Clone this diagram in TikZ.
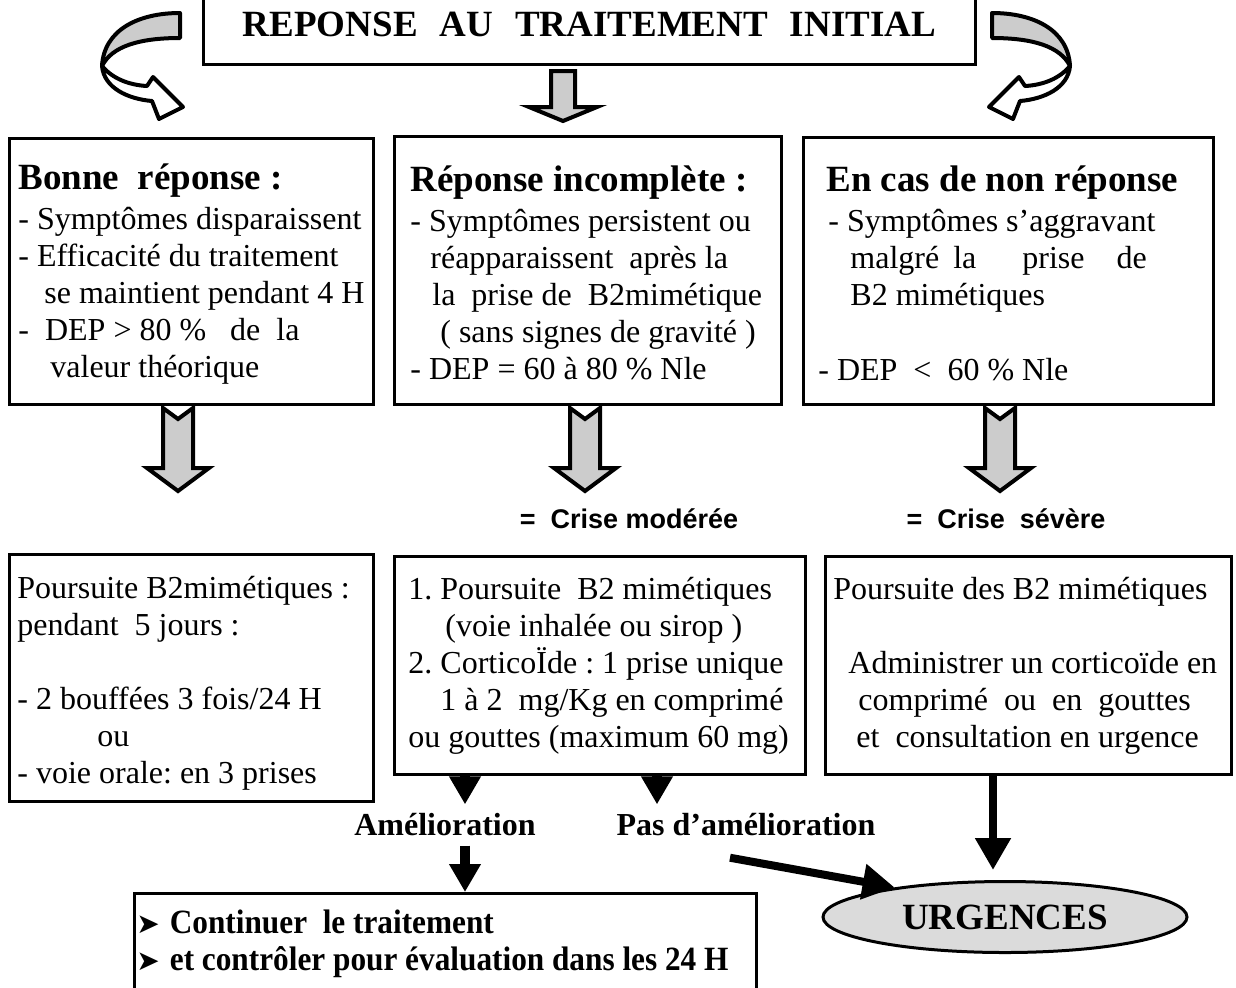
\documentclass[tikz,border=0pt]{standalone}
\usepackage{fontspec}
\usepackage{graphicx}
\setmainfont{Liberation Serif}
\setsansfont{Liberation Sans}
\newfontfamily\symfont{DejaVu Sans}
\usetikzlibrary{arrows.meta,shapes.geometric}
\definecolor{ArrowGray}{gray}{0.80}
\definecolor{OvalGray}{gray}{0.86}
\newcommand{\headline}[1]{{\fontsize{18.5}{18.5}\selectfont\bfseries #1}}
\newcommand{\pointer}{{\symfont\fontsize{14}{14}\selectfont ➤}}
\frenchspacing

\begin{document}
\begin{tikzpicture}[x=0.5pt, y=-0.5pt, every node/.style={inner sep=0pt},
  box/.style={draw, line width=1.5pt, anchor=north west},
  boxtext/.style={anchor=base west, align=left, font=\fontsize{16}{18.5}\selectfont},
  crise/.style={anchor=base, font=\sffamily\bfseries\fontsize{13.5}{13.5}\selectfont},
  outcome/.style={anchor=base, font=\bfseries\fontsize{16}{16}\selectfont},
  blockarrow/.style={draw, line width=2pt, fill=ArrowGray, line join=miter},
  curlgray/.style={draw, line width=2pt, fill=ArrowGray, line join=round},
  curlwhite/.style={draw, line width=2pt, fill=white, line join=round},
  fatarrow/.style={line width=5pt, -{Triangle[width=15pt,length=14pt]}},
  slimarrow/.style={line width=4pt, -{Triangle[width=17pt,length=16pt]}}]
  \useasboundingbox (0,0) rectangle (1236,987);
  \clip (0,0) rectangle (1236,987);

  % title box
  \node[box, anchor=south west, minimum width=386pt, minimum height=40.5pt] (top) at (202,66)
    {\fontsize{18.5}{18.5}\selectfont\bfseries REPONSE\hspace{11pt}AU\hspace{11pt}TRAITEMENT\hspace{11pt}INITIAL};

  % curled arrows on both sides
  \draw[curlgray] (180,13) .. controls (138,13) and (104,30) .. (102,66)
    .. controls (112,46) and (140,38) .. (180,38) -- cycle;
  \draw[curlwhite] (102,66) .. controls (104,88) and (128,99) .. (152,101) -- (159,119)
    -- (183,107) -- (153,77) -- (147,86) .. controls (128,85) and (112,78) .. (102,66) -- cycle;
  \begin{scope}[shift={(1172,0)}, xscale=-1]
    \draw[curlgray] (180,13) .. controls (138,13) and (104,30) .. (102,66)
      .. controls (112,46) and (140,38) .. (180,38) -- cycle;
    \draw[curlwhite] (102,66) .. controls (104,88) and (128,99) .. (152,101) -- (159,119)
      -- (183,107) -- (153,77) -- (147,86) .. controls (128,85) and (112,78) .. (102,66) -- cycle;
  \end{scope}
  \draw[blockarrow] (551,71) -- (575,71) -- (575,107) -- (597,107) -- (563,121)
    -- (529,107) -- (551,107) -- cycle;

  % first row (text nodes placed by their last baseline)
  \node[box, minimum width=182pt, minimum height=133pt] (b1) at (8,137) {};
  \node[box, minimum width=193.5pt, minimum height=134pt] (b2) at (393,135) {};
  \node[box, minimum width=205pt, minimum height=133.5pt] (b3) at (802,136) {};
  \node[boxtext] (t1) at (18,377) {\headline{Bonne\ \ réponse :}\\[1.5pt]
    - Symptômes disparaissent\\
    - Efficacité du traitement\\
    \hspace*{13pt}se maintient pendant 4 H\\
    -\ \ DEP > 80 \%\ \ \ de\ \ la\\
    \hspace*{16pt}valeur théorique};
  \node[boxtext] (t2) at (410,379) {\headline{Réponse incomplète :}\\[1.5pt]
    - Symptômes persistent ou\\
    \hspace*{10pt}réapparaissent\ \ après la\\
    \hspace*{11pt}la\ \ prise de\ \ B2mimétique\\
    \hspace*{15pt}( sans signes de gravité )\\
    - DEP = 60 à 80 \% Nle};
  \node[boxtext] (t3) at (818,380) {\hspace*{4pt}\headline{En cas de non réponse}\\[1.5pt]
    \hspace*{5pt}- Symptômes s’aggravant\\
    \hspace*{16pt}malgré\hspace{7pt}la\hspace{23pt}prise\hspace{16pt}de\\
    \hspace*{16pt}B2 mimétiques\\[19pt]
    - DEP\ \ <\ \ 60 \% Nle};

  % notched block arrows
  \foreach \cx in {178,585,1000} {
    \draw[blockarrow] (\cx-15,408) -- (\cx,419) -- (\cx+15,408) -- (\cx+15,468)
      -- (\cx+31,468) -- (\cx,491) -- (\cx-31,468) -- (\cx-15,468) -- cycle;
  }
  \node[crise] (mod) at (629,528) {=\ \ Crise modérée};
  \node[crise] (sev) at (1006,528) {=\ \ Crise\ \ sévère};

  % second row
  \node[box, minimum width=182pt, minimum height=123.5pt] (b4) at (8,553) {};
  \node[box, minimum width=205.5pt, minimum height=109pt] (b5) at (393,555) {};
  \node[box, minimum width=203pt, minimum height=109pt] (b6) at (824,555) {};
  \node[boxtext] (t4) at (17,783) {Poursuite B2mimétiques :\\
    pendant\ \ 5 jours :\\[18.5pt]
    - 2 bouffées 3 fois/24 H\\
    \hspace*{40pt}ou\\
    - voie orale: en 3 prises};
  \node[boxtext] (t5) at (408,747) {1. Poursuite\ \ B2 mimétiques\\
    \hspace*{18.5pt}(voie inhalée ou sirop )\\
    2. CorticoÏde : 1 prise unique\\
    \hspace*{16pt}1 à 2\ \ mg/Kg en comprimé\\
    ou gouttes (maximum 60 mg)};
  \node[boxtext] (t6) at (833,747) {Poursuite des B2 mimétiques\\[18.5pt]
    \hspace*{7.5pt}Administrer un corticoïde en\\
    \hspace*{12.5pt}comprimé\ \ ou\ \ en\ \ gouttes\\
    \hspace*{11.5pt}et\ \ consultation en urgence};

  % outcomes
  \node[outcome] (amel) at (445,835) {Amélioration};
  \node[outcome] (noamel) at (746,835) {Pas d’amélioration};
  \node[ellipse, draw, line width=1.5pt, fill=OvalGray, minimum width=182pt, minimum height=35.5pt,
    font=\bfseries\fontsize{18.5}{18.5}\selectfont] (urg) at (1005,917) {URGENCES};
  \node[box, minimum width=311pt, minimum height=60pt] (b7) at (133,892) {};
  \node[boxtext, font=\bfseries\fontsize{17}{18.5}\selectfont] (t7) at (136,970)
    {\pointer\hspace{5pt}\scalebox{0.92}[1]{Continuer\ \ le traitement}\\
     \pointer\hspace{5pt}\scalebox{0.92}[1]{et contrôler pour évaluation dans les 24 H}};

  \coordinate (p1) at (465,0);
  \coordinate (p2) at (657,0);
  \coordinate (p3) at (993,0);
  \draw[fatarrow, shorten >=4pt] (b5.south -| p1) -- (amel.north -| p1);
  \draw[fatarrow, shorten >=4pt] (b5.south -| p2) -- (noamel.north -| p2);
  \draw[fatarrow, shorten <=5pt] (amel.south -| p1) -- (b7.north -| p1);
  \draw[slimarrow] ([xshift=-8pt,yshift=-11pt]noamel.south) -- (urg.165);
  \draw[slimarrow, shorten >=5pt] (b6.south -| p3) -- (urg.north -| p3);
\end{tikzpicture}
\end{document}
